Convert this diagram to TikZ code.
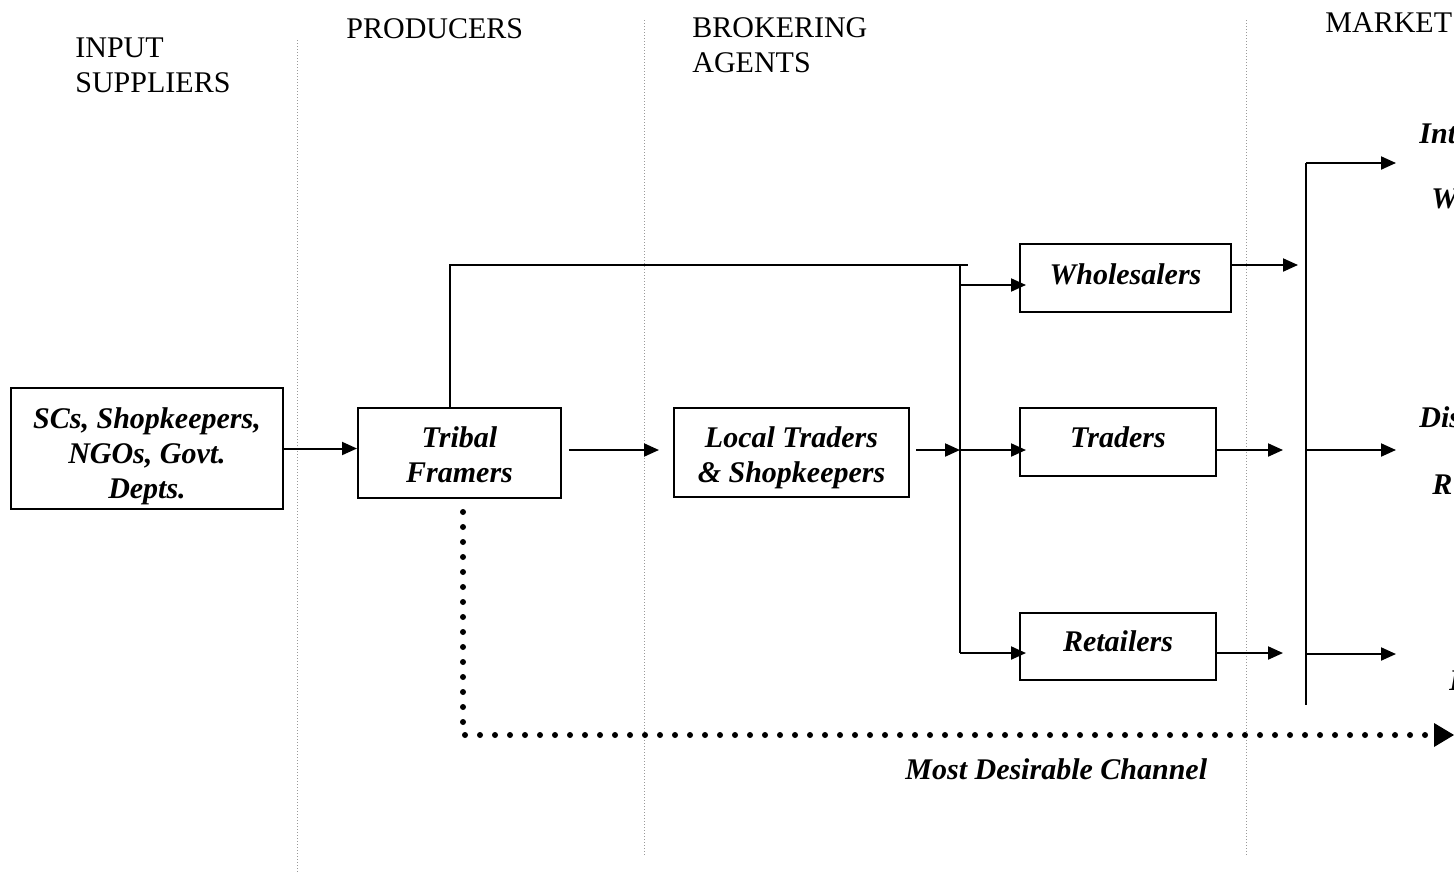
\documentclass[tikz,border=0pt]{standalone}
\usepackage{fontspec}
\setmainfont{Liberation Serif}
\usetikzlibrary{arrows.meta,calc}
\newcommand{\bxt}[2]{\raisebox{#1}[0pt][0pt]{\begin{tabular}{@{}c@{}}#2\end{tabular}}}
\begin{document}
\begin{tikzpicture}[x=0.5pt,y=-0.5pt,
  box/.style={draw,line width=1pt,inner sep=0pt,
    font=\bfseries\itshape\fontsize{15}{17.5}\selectfont},
  hdr/.style={anchor=north west,inner sep=0pt,align=left,
    font=\fontsize{15}{17.5}\selectfont},
  lbl/.style={anchor=base west,inner sep=0pt,
    font=\bfseries\itshape\fontsize{15}{17.5}\selectfont},
  plain/.style={line width=1pt},
  arr/.style={line width=1pt,-{Triangle[length=7.5pt,width=6.5pt]}},
  dots/.style={line width=3pt,line cap=round,dash pattern=on 0pt off 7.5pt,
    -{Triangle[length=10pt,width=12pt,line width=0pt]}},
  sep/.style={draw=gray!80,line width=0.4pt,dash pattern=on 0.5pt off 1pt}]
\useasboundingbox (0,0) rectangle (1454,873);

% separators
\draw[sep] (297,40) -- (297,873);
\draw[sep] (644,20) -- (644,855);
\draw[sep] (1246,20) -- (1246,855);

% headers
\node[hdr] (h1) at (75,37) {INPUT\\SUPPLIERS};
\node[hdr] (h2) at (346,18) {PRODUCERS};
\node[hdr] (h3) at (692,17) {BROKERING\\AGENTS};
\node[hdr] (h4) at (1325,12) {MARKET};

% boxes
\node[box,minimum width=136pt,minimum height=60.5pt] (sc) at (147,448.5) {\bxt{-7.5pt}{SCs, Shopkeepers,\\NGOs, Govt.\\Depts.}};
\node[box,minimum width=101.5pt,minimum height=45pt] (tribal) at (459.5,453) {\bxt{-6pt}{Tribal\\Framers}};
\node[box,minimum width=117.5pt,minimum height=44.5pt] (local) at (791.5,452.5) {\bxt{-6.25pt}{Local Traders\\\& Shopkeepers}};
\node[box,minimum width=105.5pt,minimum height=34pt] (whole) at (1125.5,278) {\bxt{-3.25pt}{Wholesalers}};
\node[box,minimum width=98pt,minimum height=34pt] (traders) at (1118,442) {\bxt{-2.75pt}{Traders}};
\node[box,minimum width=98pt,minimum height=33.5pt] (retail) at (1118,646.5) {\bxt{-2.5pt}{Retailers}};

% coordinates
\coordinate (row) at (0,450);
\coordinate (j) at (960,450);
\coordinate (jt) at (960,265);
\coordinate (jb) at (960,653);
\coordinate (jw) at (960,285);
\coordinate (bt) at (1306,163);
\coordinate (bb) at (1306,705);
\coordinate (b2) at (1306,450);
\coordinate (b3) at (1306,654);
\coordinate (rw) at (1298,265);
\coordinate (rt) at (1283,450);
\coordinate (rr) at (1283,653);
\coordinate (m1) at (1396,163);
\coordinate (m2) at (1396,450);
\coordinate (m3) at (1396,654);
\coordinate (dend) at (1454,735);

% connectors
\draw[arr] (sc.east) -- (sc.east -| tribal.west);
\draw[arr] ($(tribal.east|-row)+(7,0)$) -- ($(local.west|-row)+(-14,0)$);
\draw[arr] ($(local.east|-row)+(6,0)$) -- (j);
\draw[plain] (jt) -- (jb);
\draw[plain] ($(tribal.north)+(-10,0)$) |- ($(jt)+(8,0)$);
\draw[arr] (jw) -- ($(jw -| whole.west)+(7,0)$);
\draw[arr] (j) -- ($(j -| traders.west)+(7,0)$);
\draw[arr] (jb) -- ($(jb -| retail.west)+(7,0)$);
\draw[arr] (whole.east |- rw) -- (rw);
\draw[arr] (traders.east |- rt) -- (rt);
\draw[arr] (retail.east |- rr) -- (rr);
\draw[plain] (bt) -- (bb);
\draw[arr] (bt) -- (m1);
\draw[arr] (b2) -- (m2);
\draw[arr] (b3) -- (m3);
\draw[dots] ($(tribal.south)+(3.5,13)$) |- (dend);

% labels
\node[lbl] (t1) at (905,779) {Most Desirable Channel};
\node[lbl] (r1) at (1419,143) {Int};
\node[lbl] (r2) at (1431,208) {W};
\node[lbl] (r3) at (1419,427) {Dis};
\node[lbl] (r4) at (1432,494) {R};
\node[lbl] (r5) at (1449,690) {I};
\end{tikzpicture}
\end{document}
